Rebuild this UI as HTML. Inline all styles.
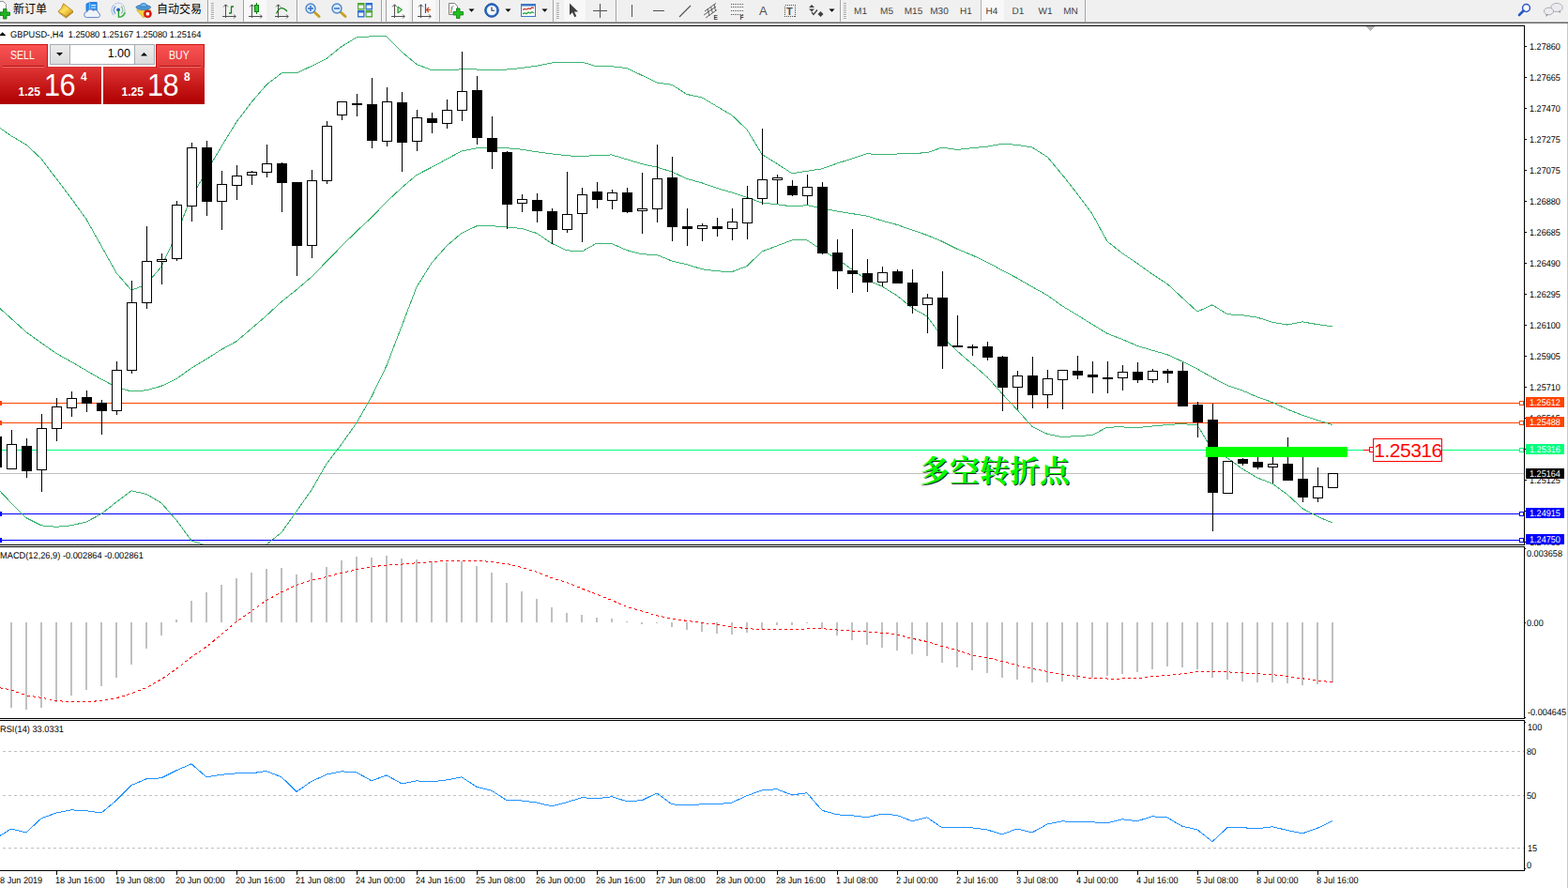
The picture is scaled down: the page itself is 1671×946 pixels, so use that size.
<!DOCTYPE html>
<html><head><meta charset="utf-8"><title>GBPUSD-,H4</title>
<style>
html,body{margin:0;padding:0;background:#fff;}
body{width:1671px;height:946px;position:relative;overflow:hidden;font-family:"Liberation Sans",sans-serif;}
#chart{position:absolute;left:0;top:0;}
.ax{position:absolute;text-rendering:geometricPrecision;font-size:9.8px;line-height:11px;color:#000;white-space:nowrap;transform-origin:0 0;transform:scaleX(0.93);}
.ax.t{transform:scaleX(0.945);}
.lb{position:absolute;left:1626px;width:41px;height:11px;}
.red{position:absolute;left:1464px;top:468px;width:73px;height:24px;line-height:24px;text-align:center;color:#ff0000;font-size:21px;letter-spacing:-0.5px;}
#tb{position:absolute;left:0;top:0;width:1671px;height:22px;background:#f0f0f0;border-bottom:1px solid #f6f6f6;}
#tbl{position:absolute;left:0;top:23px;width:1671px;height:1px;background:#a4a4a4;border-bottom:1px solid #6c6c6c;}

#pn{position:absolute;left:0;top:47px;width:218px;height:64px;color:#fff;}
#pn div{position:absolute;}
#pn .sb{top:0;height:25px;width:51px;background:linear-gradient(#fb5353,#e03a3a);border-top:1px solid #c81414;box-sizing:border-box;}
#pn .sb.l{left:0;border-right:1px solid #c81414;}
#pn .sb.r{left:166px;width:52px;border-left:1px solid #c81414;border-right:1px solid #c81414;}
#pn .bp{top:24px;height:40px;width:108px;background:linear-gradient(#e03636,#c41616 55%,#ae0000);}
#pn .ul{top:23px;height:1px;width:44px;background:#b01010;}
#pn .ul2{top:24px;height:1px;width:44px;background:#f47070;}
#pn .t1{top:5px;font-size:12px;line-height:14px;transform-origin:0 0;transform:scaleX(0.88);}
#pn .sm{font-weight:bold;font-size:12px;line-height:12px;top:45px;}
#pn .bg{font-size:34px;line-height:34px;top:26px;transform-origin:0 0;transform:scaleX(0.9);letter-spacing:-0.5px;}
#pn .sp{font-weight:bold;font-size:12px;line-height:12px;top:29px;}
#pn .spin{left:53px;top:0;width:112px;height:22px;box-sizing:border-box;border:1px solid #a6acb4;background:#fff;}
#pn .spb{top:1px;width:20px;height:20px;background:linear-gradient(#ececec,#dcdcdc);}
#pn .vol{left:76px;top:2px;width:63px;text-align:right;color:#000;font-size:12.5px;line-height:16px;}

</style></head><body>
<svg id="chart" width="1671" height="946" viewBox="0 0 1671 946">
<defs><clipPath id="cm"><rect x="0" y="28" width="1624" height="552"/></clipPath><clipPath id="cmacd"><rect x="0" y="583" width="1624" height="182"/></clipPath><clipPath id="crsi"><rect x="0" y="769" width="1624" height="158"/></clipPath></defs>
<g shape-rendering="crispEdges">
<rect x="0" y="504" width="1624" height="1" fill="#c0c0c0"/>
<rect x="0" y="429" width="1619" height="1" fill="#ff4500"/>
<rect x="0" y="450" width="1619" height="1" fill="#ff4500"/>
<rect x="0" y="479" width="1619" height="1" fill="#00ff7f"/>
<rect x="0" y="547" width="1619" height="1" fill="#0000ff"/>
<rect x="0" y="575" width="1619" height="1" fill="#0000ff"/>
</g>
<polyline points="0,136.4 12,144.8 28,154.3 44,169.1 60,190.3 76,211.4 92,233.6 108,262.1 124,290.7 140,309.3 156,303.0 172,284.0 188,249.9 204,209.3 220,183.3 236,156.0 252,130.0 268,108.8 284,90.3 300,77.9 316,77.9 332,70.4 348,62.5 364,49.5 380,39.8 396,38.8 412,38.8 428,55.2 444,68.5 460,74.7 476,74.8 492,73.8 508,74.0 524,75.0 540,74.0 556,72.5 572,70.2 588,67.0 604,66.0 620,66.0 636,70.8 652,70.8 668,72.6 684,80.2 700,88.0 716,90.3 732,100.5 748,103.8 764,113.4 780,122.8 796,138.0 812,164.5 828,174.3 844,184.8 860,182.3 876,179.8 892,174.1 908,169.0 924,163.7 940,164.9 956,164.0 972,163.3 988,162.8 1004,157.0 1020,159.5 1036,157.7 1052,156.2 1068,153.2 1084,154.4 1100,157.0 1116,167.1 1132,186.1 1148,206.4 1164,228.0 1180,257.2 1196,269.8 1212,280.6 1228,292.1 1244,302.5 1260,317.3 1276,332.0 1292,324.8 1308,334.8 1324,335.7 1340,338.2 1356,343.2 1372,346.1 1388,342.9 1404,345.6 1420,347.8" fill="none" stroke="#3cb371" stroke-width="1" clip-path="url(#cm)" shape-rendering="crispEdges" />
<polyline points="0,328.6 12,339.4 28,353.8 44,365.3 60,376.5 76,385.4 92,394.8 108,404.0 124,412.5 140,417.0 156,415.8 172,411.3 188,403.6 204,392.1 220,382.6 236,372.3 252,363.7 268,350.0 284,336.2 300,321.4 316,308.7 332,295.0 348,278.6 364,262.2 380,246.4 396,231.7 412,214.9 428,200.1 444,186.4 460,178.2 476,169.6 492,160.9 508,157.9 524,157.7 540,157.7 556,159.2 572,161.8 588,163.9 604,165.7 620,166.9 636,165.1 652,165.0 668,169.8 684,174.6 700,178.1 716,183.0 732,190.5 748,194.8 764,200.5 780,205.1 796,210.3 812,216.0 828,217.7 844,219.9 860,218.7 876,221.8 892,225.0 908,227.6 924,230.2 940,235.1 956,239.4 972,245.1 988,250.5 1004,257.2 1020,265.3 1036,271.8 1052,279.3 1068,288.0 1084,296.3 1100,305.6 1116,314.5 1132,326.0 1148,335.6 1164,345.5 1180,355.3 1196,361.5 1212,368.4 1228,373.2 1244,377.8 1260,385.1 1276,393.1 1292,402.2 1308,410.7 1324,416.0 1340,422.9 1356,428.6 1372,436.0 1388,442.4 1404,447.7 1420,452.5" fill="none" stroke="#3cb371" stroke-width="1" clip-path="url(#cm)" shape-rendering="crispEdges" />
<polyline points="0,523.2 12,535.9 28,551.7 44,559.8 60,561.3 76,559.8 92,556.0 108,547.5 124,534.8 140,522.8 156,526.4 172,535.9 188,554.1 204,576.0 220,581.5 236,586.5 252,588.5 268,586.5 284,580.0 300,567.3 316,544.7 332,522.0 348,494.1 364,473.2 380,450.5 396,422.6 412,389.5 428,347.7 444,305.8 460,280.1 476,262.0 492,248.3 508,240.8 524,240.7 540,241.9 556,243.5 572,248.5 588,259.3 604,266.8 620,268.0 636,259.0 652,259.6 668,266.6 684,270.8 700,271.5 716,278.0 732,281.8 748,286.7 764,288.8 780,289.6 796,283.5 812,268.0 828,261.9 844,255.9 860,255.9 876,266.5 892,275.7 908,287.2 924,298.3 940,305.1 956,315.0 972,328.0 988,337.0 1004,358.9 1020,374.0 1036,387.8 1052,401.6 1068,419.5 1084,436.5 1100,454.4 1116,462.3 1132,465.6 1148,464.6 1164,463.5 1180,455.1 1196,454.9 1212,455.7 1228,454.0 1244,452.5 1260,451.5 1276,453.0 1292,479.5 1308,487.8 1324,499.5 1340,509.0 1356,515.3 1372,526.9 1388,541.7 1404,550.2 1420,557.0" fill="none" stroke="#3cb371" stroke-width="1" clip-path="url(#cm)" shape-rendering="crispEdges" />
<g shape-rendering="crispEdges" clip-path="url(#cm)">
<rect x="-4" y="465" width="1" height="33" fill="#000"/>
<rect x="-9" y="465" width="11" height="33" fill="#000"/>
<rect x="12" y="458" width="1" height="42" fill="#000"/>
<rect x="7" y="473" width="11" height="27" fill="#000"/>
<rect x="8" y="474" width="9" height="25" fill="#fff"/>
<rect x="28" y="467" width="1" height="42" fill="#000"/>
<rect x="23" y="475" width="11" height="27" fill="#000"/>
<rect x="44" y="441" width="1" height="83" fill="#000"/>
<rect x="39" y="456" width="11" height="45" fill="#000"/>
<rect x="40" y="457" width="9" height="43" fill="#fff"/>
<rect x="60" y="424" width="1" height="46" fill="#000"/>
<rect x="55" y="433" width="11" height="24" fill="#000"/>
<rect x="56" y="434" width="9" height="22" fill="#fff"/>
<rect x="76" y="417" width="1" height="27" fill="#000"/>
<rect x="71" y="424" width="11" height="11" fill="#000"/>
<rect x="72" y="425" width="9" height="9" fill="#fff"/>
<rect x="92" y="416" width="1" height="23" fill="#000"/>
<rect x="87" y="423" width="11" height="7" fill="#000"/>
<rect x="108" y="426" width="1" height="37" fill="#000"/>
<rect x="103" y="429" width="11" height="9" fill="#000"/>
<rect x="124" y="385" width="1" height="57" fill="#000"/>
<rect x="119" y="394" width="11" height="44" fill="#000"/>
<rect x="120" y="395" width="9" height="42" fill="#fff"/>
<rect x="140" y="299" width="1" height="99" fill="#000"/>
<rect x="135" y="322" width="11" height="73" fill="#000"/>
<rect x="136" y="323" width="9" height="71" fill="#fff"/>
<rect x="156" y="241" width="1" height="88" fill="#000"/>
<rect x="151" y="278" width="11" height="45" fill="#000"/>
<rect x="152" y="279" width="9" height="43" fill="#fff"/>
<rect x="172" y="270" width="1" height="33" fill="#000"/>
<rect x="167" y="276" width="11" height="3" fill="#000"/>
<rect x="168" y="277" width="9" height="1" fill="#fff"/>
<rect x="188" y="214" width="1" height="64" fill="#000"/>
<rect x="183" y="218" width="11" height="58" fill="#000"/>
<rect x="184" y="219" width="9" height="56" fill="#fff"/>
<rect x="204" y="152" width="1" height="84" fill="#000"/>
<rect x="199" y="157" width="11" height="63" fill="#000"/>
<rect x="200" y="158" width="9" height="61" fill="#fff"/>
<rect x="220" y="150" width="1" height="80" fill="#000"/>
<rect x="215" y="157" width="11" height="58" fill="#000"/>
<rect x="236" y="182" width="1" height="63" fill="#000"/>
<rect x="231" y="196" width="11" height="19" fill="#000"/>
<rect x="232" y="197" width="9" height="17" fill="#fff"/>
<rect x="252" y="176" width="1" height="37" fill="#000"/>
<rect x="247" y="187" width="11" height="11" fill="#000"/>
<rect x="248" y="188" width="9" height="9" fill="#fff"/>
<rect x="268" y="182" width="1" height="15" fill="#000"/>
<rect x="263" y="183" width="11" height="4" fill="#000"/>
<rect x="264" y="184" width="9" height="2" fill="#fff"/>
<rect x="284" y="154" width="1" height="35" fill="#000"/>
<rect x="279" y="174" width="11" height="10" fill="#000"/>
<rect x="280" y="175" width="9" height="8" fill="#fff"/>
<rect x="300" y="173" width="1" height="53" fill="#000"/>
<rect x="295" y="174" width="11" height="21" fill="#000"/>
<rect x="316" y="194" width="1" height="100" fill="#000"/>
<rect x="311" y="194" width="11" height="68" fill="#000"/>
<rect x="332" y="181" width="1" height="94" fill="#000"/>
<rect x="327" y="192" width="11" height="70" fill="#000"/>
<rect x="328" y="193" width="9" height="68" fill="#fff"/>
<rect x="348" y="129" width="1" height="67" fill="#000"/>
<rect x="343" y="134" width="11" height="59" fill="#000"/>
<rect x="344" y="135" width="9" height="57" fill="#fff"/>
<rect x="364" y="108" width="1" height="20" fill="#000"/>
<rect x="359" y="108" width="11" height="15" fill="#000"/>
<rect x="360" y="109" width="9" height="13" fill="#fff"/>
<rect x="380" y="100" width="1" height="24" fill="#000"/>
<rect x="375" y="110" width="11" height="2" fill="#000"/>
<rect x="396" y="83" width="1" height="75" fill="#000"/>
<rect x="391" y="111" width="11" height="39" fill="#000"/>
<rect x="412" y="93" width="1" height="63" fill="#000"/>
<rect x="407" y="108" width="11" height="43" fill="#000"/>
<rect x="408" y="109" width="9" height="41" fill="#fff"/>
<rect x="428" y="98" width="1" height="85" fill="#000"/>
<rect x="423" y="109" width="11" height="43" fill="#000"/>
<rect x="444" y="117" width="1" height="44" fill="#000"/>
<rect x="439" y="125" width="11" height="26" fill="#000"/>
<rect x="440" y="126" width="9" height="24" fill="#fff"/>
<rect x="460" y="120" width="1" height="22" fill="#000"/>
<rect x="455" y="126" width="11" height="5" fill="#000"/>
<rect x="476" y="106" width="1" height="31" fill="#000"/>
<rect x="471" y="117" width="11" height="15" fill="#000"/>
<rect x="472" y="118" width="9" height="13" fill="#fff"/>
<rect x="492" y="55" width="1" height="74" fill="#000"/>
<rect x="487" y="97" width="11" height="21" fill="#000"/>
<rect x="488" y="98" width="9" height="19" fill="#fff"/>
<rect x="508" y="81" width="1" height="73" fill="#000"/>
<rect x="503" y="96" width="11" height="51" fill="#000"/>
<rect x="524" y="124" width="1" height="56" fill="#000"/>
<rect x="519" y="147" width="11" height="15" fill="#000"/>
<rect x="540" y="161" width="1" height="83" fill="#000"/>
<rect x="535" y="162" width="11" height="56" fill="#000"/>
<rect x="556" y="207" width="1" height="19" fill="#000"/>
<rect x="551" y="212" width="11" height="5" fill="#000"/>
<rect x="552" y="213" width="9" height="3" fill="#fff"/>
<rect x="572" y="206" width="1" height="31" fill="#000"/>
<rect x="567" y="213" width="11" height="12" fill="#000"/>
<rect x="588" y="222" width="1" height="38" fill="#000"/>
<rect x="583" y="225" width="11" height="20" fill="#000"/>
<rect x="604" y="183" width="1" height="65" fill="#000"/>
<rect x="599" y="228" width="11" height="17" fill="#000"/>
<rect x="600" y="229" width="9" height="15" fill="#fff"/>
<rect x="620" y="200" width="1" height="58" fill="#000"/>
<rect x="615" y="207" width="11" height="21" fill="#000"/>
<rect x="616" y="208" width="9" height="19" fill="#fff"/>
<rect x="636" y="194" width="1" height="28" fill="#000"/>
<rect x="631" y="204" width="11" height="9" fill="#000"/>
<rect x="652" y="202" width="1" height="21" fill="#000"/>
<rect x="647" y="205" width="11" height="9" fill="#000"/>
<rect x="648" y="206" width="9" height="7" fill="#fff"/>
<rect x="668" y="200" width="1" height="27" fill="#000"/>
<rect x="663" y="205" width="11" height="21" fill="#000"/>
<rect x="684" y="184" width="1" height="65" fill="#000"/>
<rect x="679" y="222" width="11" height="3" fill="#000"/>
<rect x="680" y="223" width="9" height="1" fill="#fff"/>
<rect x="700" y="154" width="1" height="83" fill="#000"/>
<rect x="695" y="190" width="11" height="33" fill="#000"/>
<rect x="696" y="191" width="9" height="31" fill="#fff"/>
<rect x="716" y="167" width="1" height="90" fill="#000"/>
<rect x="711" y="189" width="11" height="53" fill="#000"/>
<rect x="732" y="222" width="1" height="40" fill="#000"/>
<rect x="727" y="241" width="11" height="3" fill="#000"/>
<rect x="748" y="238" width="1" height="19" fill="#000"/>
<rect x="743" y="240" width="11" height="4" fill="#000"/>
<rect x="744" y="241" width="9" height="2" fill="#fff"/>
<rect x="764" y="232" width="1" height="20" fill="#000"/>
<rect x="759" y="241" width="11" height="3" fill="#000"/>
<rect x="780" y="222" width="1" height="34" fill="#000"/>
<rect x="775" y="236" width="11" height="8" fill="#000"/>
<rect x="776" y="237" width="9" height="6" fill="#fff"/>
<rect x="796" y="198" width="1" height="57" fill="#000"/>
<rect x="791" y="211" width="11" height="27" fill="#000"/>
<rect x="792" y="212" width="9" height="25" fill="#fff"/>
<rect x="812" y="137" width="1" height="81" fill="#000"/>
<rect x="807" y="191" width="11" height="21" fill="#000"/>
<rect x="808" y="192" width="9" height="19" fill="#fff"/>
<rect x="828" y="186" width="1" height="31" fill="#000"/>
<rect x="823" y="189" width="11" height="3" fill="#000"/>
<rect x="824" y="190" width="9" height="1" fill="#fff"/>
<rect x="844" y="192" width="1" height="17" fill="#000"/>
<rect x="839" y="198" width="11" height="10" fill="#000"/>
<rect x="860" y="186" width="1" height="32" fill="#000"/>
<rect x="855" y="199" width="11" height="10" fill="#000"/>
<rect x="856" y="200" width="9" height="8" fill="#fff"/>
<rect x="876" y="194" width="1" height="77" fill="#000"/>
<rect x="871" y="199" width="11" height="71" fill="#000"/>
<rect x="892" y="255" width="1" height="53" fill="#000"/>
<rect x="887" y="269" width="11" height="20" fill="#000"/>
<rect x="908" y="244" width="1" height="68" fill="#000"/>
<rect x="903" y="288" width="11" height="4" fill="#000"/>
<rect x="924" y="276" width="1" height="35" fill="#000"/>
<rect x="919" y="291" width="11" height="10" fill="#000"/>
<rect x="940" y="284" width="1" height="21" fill="#000"/>
<rect x="935" y="290" width="11" height="11" fill="#000"/>
<rect x="936" y="291" width="9" height="9" fill="#fff"/>
<rect x="956" y="287" width="1" height="15" fill="#000"/>
<rect x="951" y="289" width="11" height="13" fill="#000"/>
<rect x="972" y="287" width="1" height="47" fill="#000"/>
<rect x="967" y="301" width="11" height="25" fill="#000"/>
<rect x="988" y="313" width="1" height="42" fill="#000"/>
<rect x="983" y="317" width="11" height="8" fill="#000"/>
<rect x="984" y="318" width="9" height="6" fill="#fff"/>
<rect x="1004" y="289" width="1" height="104" fill="#000"/>
<rect x="999" y="317" width="11" height="52" fill="#000"/>
<rect x="1020" y="336" width="1" height="34" fill="#000"/>
<rect x="1015" y="368" width="11" height="2" fill="#000"/>
<rect x="1036" y="367" width="1" height="12" fill="#000"/>
<rect x="1031" y="369" width="11" height="2" fill="#000"/>
<rect x="1052" y="364" width="1" height="20" fill="#000"/>
<rect x="1047" y="369" width="11" height="12" fill="#000"/>
<rect x="1068" y="379" width="1" height="59" fill="#000"/>
<rect x="1063" y="380" width="11" height="33" fill="#000"/>
<rect x="1084" y="395" width="1" height="41" fill="#000"/>
<rect x="1079" y="400" width="11" height="13" fill="#000"/>
<rect x="1080" y="401" width="9" height="11" fill="#fff"/>
<rect x="1100" y="380" width="1" height="55" fill="#000"/>
<rect x="1095" y="400" width="11" height="21" fill="#000"/>
<rect x="1116" y="394" width="1" height="41" fill="#000"/>
<rect x="1111" y="403" width="11" height="18" fill="#000"/>
<rect x="1112" y="404" width="9" height="16" fill="#fff"/>
<rect x="1132" y="394" width="1" height="42" fill="#000"/>
<rect x="1127" y="394" width="11" height="11" fill="#000"/>
<rect x="1128" y="395" width="9" height="9" fill="#fff"/>
<rect x="1148" y="379" width="1" height="25" fill="#000"/>
<rect x="1143" y="395" width="11" height="5" fill="#000"/>
<rect x="1164" y="385" width="1" height="34" fill="#000"/>
<rect x="1159" y="399" width="11" height="3" fill="#000"/>
<rect x="1180" y="385" width="1" height="34" fill="#000"/>
<rect x="1175" y="402" width="11" height="2" fill="#000"/>
<rect x="1196" y="389" width="1" height="27" fill="#000"/>
<rect x="1191" y="396" width="11" height="7" fill="#000"/>
<rect x="1192" y="397" width="9" height="5" fill="#fff"/>
<rect x="1212" y="386" width="1" height="22" fill="#000"/>
<rect x="1207" y="396" width="11" height="9" fill="#000"/>
<rect x="1228" y="393" width="1" height="15" fill="#000"/>
<rect x="1223" y="395" width="11" height="10" fill="#000"/>
<rect x="1224" y="396" width="9" height="8" fill="#fff"/>
<rect x="1244" y="393" width="1" height="15" fill="#000"/>
<rect x="1239" y="395" width="11" height="3" fill="#000"/>
<rect x="1260" y="386" width="1" height="47" fill="#000"/>
<rect x="1255" y="395" width="11" height="38" fill="#000"/>
<rect x="1276" y="428" width="1" height="38" fill="#000"/>
<rect x="1271" y="431" width="11" height="19" fill="#000"/>
<rect x="1292" y="430" width="1" height="136" fill="#000"/>
<rect x="1287" y="447" width="11" height="78" fill="#000"/>
<rect x="1308" y="491" width="1" height="35" fill="#000"/>
<rect x="1303" y="491" width="11" height="35" fill="#000"/>
<rect x="1304" y="492" width="9" height="33" fill="#fff"/>
<rect x="1324" y="488" width="1" height="8" fill="#000"/>
<rect x="1319" y="489" width="11" height="5" fill="#000"/>
<rect x="1340" y="484" width="1" height="16" fill="#000"/>
<rect x="1335" y="492" width="11" height="6" fill="#000"/>
<rect x="1356" y="485" width="1" height="30" fill="#000"/>
<rect x="1351" y="494" width="11" height="4" fill="#000"/>
<rect x="1352" y="495" width="9" height="2" fill="#fff"/>
<rect x="1372" y="466" width="1" height="46" fill="#000"/>
<rect x="1367" y="494" width="11" height="18" fill="#000"/>
<rect x="1388" y="484" width="1" height="51" fill="#000"/>
<rect x="1383" y="510" width="11" height="20" fill="#000"/>
<rect x="1404" y="498" width="1" height="37" fill="#000"/>
<rect x="1399" y="518" width="11" height="13" fill="#000"/>
<rect x="1400" y="519" width="9" height="11" fill="#fff"/>
<rect x="1420" y="504" width="1" height="16" fill="#000"/>
<rect x="1415" y="504" width="11" height="16" fill="#000"/>
<rect x="1416" y="505" width="9" height="14" fill="#fff"/>
</g>
<g shape-rendering="crispEdges">
<rect x="1285" y="476" width="151" height="11" fill="#00ff00"/>
<rect x="1453" y="479" width="10" height="1" fill="#ff0000"/>
<rect x="1459.5" y="476.5" width="4" height="5" fill="#fff" stroke="#ff0000" stroke-width="1"/>
<rect x="1463.5" y="467.5" width="73" height="24" fill="#fff" stroke="#ff0000" stroke-width="1"/>
<rect x="1619.5" y="427.5" width="4" height="4" fill="#fff" stroke="#ff4500" stroke-width="1"/>
<rect x="1619.5" y="448.5" width="4" height="4" fill="#fff" stroke="#ff4500" stroke-width="1"/>
<rect x="1619.5" y="477.5" width="4" height="4" fill="#fff" stroke="#00ff7f" stroke-width="1"/>
<rect x="1619.5" y="545.5" width="4" height="4" fill="#fff" stroke="#0000ff" stroke-width="1"/>
<rect x="1619.5" y="573.5" width="4" height="4" fill="#fff" stroke="#0000ff" stroke-width="1"/>
<rect x="0" y="427" width="2" height="5" fill="#ff4500"/>
<rect x="0" y="448" width="2" height="5" fill="#ff4500"/>
<rect x="0" y="545" width="2" height="5" fill="#0000ff"/>
<rect x="0" y="573" width="2" height="5" fill="#0000ff"/>
<rect x="0" y="27" width="1625" height="1" fill="#000"/>
<rect x="1624" y="27" width="1" height="554" fill="#000"/>
<rect x="0" y="580" width="1625" height="1" fill="#000"/>
<rect x="0" y="582" width="1625" height="1" fill="#000"/>
<rect x="1624" y="582" width="1" height="184" fill="#000"/>
<rect x="0" y="765" width="1625" height="1" fill="#000"/>
<rect x="0" y="767" width="1625" height="1" fill="#000"/>
<rect x="1624" y="767" width="1" height="161" fill="#000"/>
<rect x="0" y="927" width="1625" height="1" fill="#000"/>
<rect x="1670" y="24" width="1" height="922" fill="#c8c8d0"/>
<rect x="1625" y="49" width="2" height="1" fill="#000"/>
<rect x="1625" y="82" width="2" height="1" fill="#000"/>
<rect x="1625" y="115" width="2" height="1" fill="#000"/>
<rect x="1625" y="148" width="2" height="1" fill="#000"/>
<rect x="1625" y="181" width="2" height="1" fill="#000"/>
<rect x="1625" y="214" width="2" height="1" fill="#000"/>
<rect x="1625" y="247" width="2" height="1" fill="#000"/>
<rect x="1625" y="280" width="2" height="1" fill="#000"/>
<rect x="1625" y="313" width="2" height="1" fill="#000"/>
<rect x="1625" y="346" width="2" height="1" fill="#000"/>
<rect x="1625" y="379" width="2" height="1" fill="#000"/>
<rect x="1625" y="412" width="2" height="1" fill="#000"/>
<rect x="1625" y="445" width="2" height="1" fill="#000"/>
<rect x="1625" y="478" width="2" height="1" fill="#000"/>
<rect x="1625" y="511" width="2" height="1" fill="#000"/>
<rect x="1625" y="544" width="2" height="1" fill="#000"/>
<rect x="1625" y="577" width="2" height="1" fill="#000"/>
<rect x="1625" y="584" width="1" height="1" fill="#000"/>
<rect x="1625" y="663" width="1" height="1" fill="#000"/>
<rect x="1625" y="764" width="1" height="1" fill="#000"/>
<rect x="1625" y="769" width="1" height="1" fill="#000"/>
<rect x="1625" y="925" width="1" height="1" fill="#000"/>
<rect x="60" y="928" width="1" height="4" fill="#000"/>
<rect x="124" y="928" width="1" height="4" fill="#000"/>
<rect x="188" y="928" width="1" height="4" fill="#000"/>
<rect x="252" y="928" width="1" height="4" fill="#000"/>
<rect x="316" y="928" width="1" height="4" fill="#000"/>
<rect x="380" y="928" width="1" height="4" fill="#000"/>
<rect x="444" y="928" width="1" height="4" fill="#000"/>
<rect x="508" y="928" width="1" height="4" fill="#000"/>
<rect x="572" y="928" width="1" height="4" fill="#000"/>
<rect x="636" y="928" width="1" height="4" fill="#000"/>
<rect x="700" y="928" width="1" height="4" fill="#000"/>
<rect x="764" y="928" width="1" height="4" fill="#000"/>
<rect x="828" y="928" width="1" height="4" fill="#000"/>
<rect x="892" y="928" width="1" height="4" fill="#000"/>
<rect x="956" y="928" width="1" height="4" fill="#000"/>
<rect x="1020" y="928" width="1" height="4" fill="#000"/>
<rect x="1084" y="928" width="1" height="4" fill="#000"/>
<rect x="1148" y="928" width="1" height="4" fill="#000"/>
<rect x="1212" y="928" width="1" height="4" fill="#000"/>
<rect x="1276" y="928" width="1" height="4" fill="#000"/>
<rect x="1340" y="928" width="1" height="4" fill="#000"/>
<rect x="1404" y="928" width="1" height="4" fill="#000"/>
<polygon points="1455,28 1465,28 1460,33" fill="#b4b4b4"/>
</g><polygon points="-1,38 2.7,34.2 6.4,38" fill="#000"/><g shape-rendering="crispEdges">
</g>
<g shape-rendering="crispEdges" clip-path="url(#cmacd)">
<rect x="11" y="663" width="2" height="91" fill="#c0c0c0"/>
<rect x="27" y="663" width="2" height="93" fill="#c0c0c0"/>
<rect x="43" y="663" width="2" height="91" fill="#c0c0c0"/>
<rect x="59" y="663" width="2" height="85" fill="#c0c0c0"/>
<rect x="75" y="663" width="2" height="78" fill="#c0c0c0"/>
<rect x="91" y="663" width="2" height="72" fill="#c0c0c0"/>
<rect x="107" y="663" width="2" height="68" fill="#c0c0c0"/>
<rect x="123" y="663" width="2" height="59" fill="#c0c0c0"/>
<rect x="139" y="663" width="2" height="45" fill="#c0c0c0"/>
<rect x="155" y="663" width="2" height="28" fill="#c0c0c0"/>
<rect x="171" y="663" width="2" height="14" fill="#c0c0c0"/>
<rect x="187" y="660" width="2" height="3" fill="#c0c0c0"/>
<rect x="203" y="640" width="2" height="23" fill="#c0c0c0"/>
<rect x="219" y="631" width="2" height="32" fill="#c0c0c0"/>
<rect x="235" y="623" width="2" height="40" fill="#c0c0c0"/>
<rect x="251" y="616" width="2" height="47" fill="#c0c0c0"/>
<rect x="267" y="610" width="2" height="53" fill="#c0c0c0"/>
<rect x="283" y="606" width="2" height="57" fill="#c0c0c0"/>
<rect x="299" y="605" width="2" height="58" fill="#c0c0c0"/>
<rect x="315" y="612" width="2" height="51" fill="#c0c0c0"/>
<rect x="331" y="610" width="2" height="53" fill="#c0c0c0"/>
<rect x="347" y="604" width="2" height="59" fill="#c0c0c0"/>
<rect x="363" y="597" width="2" height="66" fill="#c0c0c0"/>
<rect x="379" y="593" width="2" height="70" fill="#c0c0c0"/>
<rect x="395" y="594" width="2" height="69" fill="#c0c0c0"/>
<rect x="411" y="592" width="2" height="71" fill="#c0c0c0"/>
<rect x="427" y="595" width="2" height="68" fill="#c0c0c0"/>
<rect x="443" y="596" width="2" height="67" fill="#c0c0c0"/>
<rect x="459" y="598" width="2" height="65" fill="#c0c0c0"/>
<rect x="475" y="599" width="2" height="64" fill="#c0c0c0"/>
<rect x="491" y="598" width="2" height="65" fill="#c0c0c0"/>
<rect x="507" y="603" width="2" height="60" fill="#c0c0c0"/>
<rect x="523" y="610" width="2" height="53" fill="#c0c0c0"/>
<rect x="539" y="621" width="2" height="42" fill="#c0c0c0"/>
<rect x="555" y="630" width="2" height="33" fill="#c0c0c0"/>
<rect x="571" y="638" width="2" height="25" fill="#c0c0c0"/>
<rect x="587" y="647" width="2" height="16" fill="#c0c0c0"/>
<rect x="603" y="653" width="2" height="10" fill="#c0c0c0"/>
<rect x="619" y="655" width="2" height="8" fill="#c0c0c0"/>
<rect x="635" y="658" width="2" height="5" fill="#c0c0c0"/>
<rect x="651" y="659" width="2" height="4" fill="#c0c0c0"/>
<rect x="667" y="662" width="2" height="1" fill="#c0c0c0"/>
<rect x="683" y="663" width="2" height="2" fill="#c0c0c0"/>
<rect x="699" y="663" width="2" height="1" fill="#c0c0c0"/>
<rect x="715" y="663" width="2" height="5" fill="#c0c0c0"/>
<rect x="731" y="663" width="2" height="8" fill="#c0c0c0"/>
<rect x="747" y="663" width="2" height="10" fill="#c0c0c0"/>
<rect x="763" y="663" width="2" height="12" fill="#c0c0c0"/>
<rect x="779" y="663" width="2" height="13" fill="#c0c0c0"/>
<rect x="795" y="663" width="2" height="11" fill="#c0c0c0"/>
<rect x="811" y="663" width="2" height="7" fill="#c0c0c0"/>
<rect x="827" y="663" width="2" height="3" fill="#c0c0c0"/>
<rect x="843" y="663" width="2" height="3" fill="#c0c0c0"/>
<rect x="859" y="663" width="2" height="1" fill="#c0c0c0"/>
<rect x="875" y="663" width="2" height="7" fill="#c0c0c0"/>
<rect x="891" y="663" width="2" height="14" fill="#c0c0c0"/>
<rect x="907" y="663" width="2" height="19" fill="#c0c0c0"/>
<rect x="923" y="663" width="2" height="24" fill="#c0c0c0"/>
<rect x="939" y="663" width="2" height="27" fill="#c0c0c0"/>
<rect x="955" y="663" width="2" height="30" fill="#c0c0c0"/>
<rect x="971" y="663" width="2" height="34" fill="#c0c0c0"/>
<rect x="987" y="663" width="2" height="36" fill="#c0c0c0"/>
<rect x="1003" y="663" width="2" height="43" fill="#c0c0c0"/>
<rect x="1019" y="663" width="2" height="48" fill="#c0c0c0"/>
<rect x="1035" y="663" width="2" height="51" fill="#c0c0c0"/>
<rect x="1051" y="663" width="2" height="54" fill="#c0c0c0"/>
<rect x="1067" y="663" width="2" height="59" fill="#c0c0c0"/>
<rect x="1083" y="663" width="2" height="61" fill="#c0c0c0"/>
<rect x="1099" y="663" width="2" height="64" fill="#c0c0c0"/>
<rect x="1115" y="663" width="2" height="64" fill="#c0c0c0"/>
<rect x="1131" y="663" width="2" height="63" fill="#c0c0c0"/>
<rect x="1147" y="663" width="2" height="61" fill="#c0c0c0"/>
<rect x="1163" y="663" width="2" height="59" fill="#c0c0c0"/>
<rect x="1179" y="663" width="2" height="57" fill="#c0c0c0"/>
<rect x="1195" y="663" width="2" height="55" fill="#c0c0c0"/>
<rect x="1211" y="663" width="2" height="53" fill="#c0c0c0"/>
<rect x="1227" y="663" width="2" height="50" fill="#c0c0c0"/>
<rect x="1243" y="663" width="2" height="47" fill="#c0c0c0"/>
<rect x="1259" y="663" width="2" height="48" fill="#c0c0c0"/>
<rect x="1275" y="663" width="2" height="50" fill="#c0c0c0"/>
<rect x="1291" y="663" width="2" height="59" fill="#c0c0c0"/>
<rect x="1307" y="663" width="2" height="61" fill="#c0c0c0"/>
<rect x="1323" y="663" width="2" height="63" fill="#c0c0c0"/>
<rect x="1339" y="663" width="2" height="64" fill="#c0c0c0"/>
<rect x="1355" y="663" width="2" height="64" fill="#c0c0c0"/>
<rect x="1371" y="663" width="2" height="65" fill="#c0c0c0"/>
<rect x="1387" y="663" width="2" height="67" fill="#c0c0c0"/>
<rect x="1403" y="663" width="2" height="66" fill="#c0c0c0"/>
<rect x="1419" y="663" width="2" height="64" fill="#c0c0c0"/>
</g>
<polyline points="0,732.8 12,735.0 28,740.8 44,743.3 60,746.4 76,747.9 92,747.9 108,746.4 124,743.8 140,738.8 156,732.5 172,723.7 188,712.5 204,699.9 220,689.1 236,676.0 252,662.2 268,650.9 284,639.6 300,630.8 316,623.2 332,618.2 348,614.5 364,610.2 380,606.9 396,603.9 412,602.0 428,601.1 444,599.8 460,598.8 476,597.1 492,597.1 508,597.1 524,598.6 540,600.6 556,604.4 572,609.4 588,615.7 604,620.7 620,627.0 636,633.3 652,639.5 668,646.3 684,650.9 700,655.9 716,658.9 732,661.4 748,663.4 764,665.2 780,667.7 796,669.7 812,670.5 828,670.5 844,670.5 860,670.0 876,669.7 892,671.0 908,672.0 924,673.0 940,674.2 956,676.0 972,680.3 988,683.5 1004,688.5 1020,692.8 1036,697.9 1052,700.6 1068,704.4 1084,708.7 1100,712.4 1116,715.4 1132,718.7 1148,720.5 1164,722.5 1180,723.0 1196,723.0 1212,722.8 1228,720.5 1244,719.5 1260,717.8 1276,715.8 1292,715.8 1308,715.8 1324,716.9 1340,717.8 1356,718.6 1372,720.5 1388,722.8 1404,725.1 1420,726.8" fill="none" stroke="#ff0000" stroke-width="1" clip-path="url(#cmacd)" shape-rendering="crispEdges" stroke-dasharray="3 3"/>
<g shape-rendering="crispEdges">
<line x1="3" y1="800.5" x2="1624" y2="800.5" stroke="#c0c0c0" stroke-width="1" stroke-dasharray="3 3"/>
<line x1="3" y1="847.5" x2="1624" y2="847.5" stroke="#c0c0c0" stroke-width="1" stroke-dasharray="3 3"/>
<line x1="3" y1="903.5" x2="1624" y2="903.5" stroke="#c0c0c0" stroke-width="1" stroke-dasharray="3 3"/>
</g>
<polyline points="0,890.4 12,882.9 28,886.9 44,871.8 60,866.0 76,862.8 92,863.8 108,866.0 124,852.7 140,836.6 156,829.8 172,828.8 188,820.8 204,813.8 220,827.8 236,825.3 252,823.8 268,823.8 284,821.5 300,827.8 316,843.4 332,832.4 348,825.1 364,821.8 380,822.8 396,831.9 412,825.8 428,834.9 444,831.9 460,832.9 476,830.9 492,827.8 508,838.4 524,842.2 540,852.7 556,853.0 572,855.0 588,858.8 604,854.7 620,849.7 636,850.7 652,848.7 668,853.7 684,852.7 700,844.9 716,856.8 732,858.0 748,856.8 764,856.8 780,855.0 796,847.7 812,841.9 828,840.7 844,846.9 860,844.7 876,863.3 892,867.8 908,868.8 924,870.8 940,867.0 956,868.5 972,874.8 988,870.8 1004,881.9 1020,881.9 1036,881.9 1052,883.9 1068,888.9 1084,882.9 1100,886.9 1116,878.1 1132,874.8 1148,875.8 1164,875.8 1180,876.8 1196,872.8 1212,874.7 1228,869.8 1244,871.0 1260,880.3 1276,883.9 1292,896.6 1308,881.7 1324,881.7 1340,882.8 1356,880.8 1372,884.5 1388,887.9 1404,882.3 1420,874.6" fill="none" stroke="#1e90ff" stroke-width="1" clip-path="url(#crsi)" shape-rendering="crispEdges" />
<text x="980" y="513" font-size="32" font-weight="bold" font-family="&quot;Liberation Serif&quot;, &quot;Noto Serif CJK SC&quot;, serif" fill="#203020" transform="translate(1,1)">多空转折点</text>
<text x="980" y="513" font-size="32" font-weight="bold" font-family="&quot;Liberation Serif&quot;, &quot;Noto Serif CJK SC&quot;, serif" fill="#00ff00">多空转折点</text>
</svg>
<div class="ax" style="left:1629.6px;top:45px;">1.27860</div>
<div class="ax" style="left:1629.6px;top:78px;">1.27665</div>
<div class="ax" style="left:1629.6px;top:111px;">1.27470</div>
<div class="ax" style="left:1629.6px;top:144px;">1.27275</div>
<div class="ax" style="left:1629.6px;top:177px;">1.27075</div>
<div class="ax" style="left:1629.6px;top:210px;">1.26880</div>
<div class="ax" style="left:1629.6px;top:243px;">1.26685</div>
<div class="ax" style="left:1629.6px;top:276px;">1.26490</div>
<div class="ax" style="left:1629.6px;top:309px;">1.26295</div>
<div class="ax" style="left:1629.6px;top:342px;">1.26100</div>
<div class="ax" style="left:1629.6px;top:375px;">1.25905</div>
<div class="ax" style="left:1629.6px;top:408px;">1.25710</div>
<div class="ax" style="left:1629.6px;top:441px;">1.25515</div>
<div class="ax" style="left:1629.6px;top:474px;">1.25320</div>
<div class="ax" style="left:1629.6px;top:507px;">1.25125</div>
<div class="ax" style="left:1629.6px;top:540px;">1.24930</div>
<div class="ax" style="left:1629.6px;top:573px;">1.24735</div>
<div class="lb" style="top:423px;background:#ff4500"></div>
<div class="ax" style="left:1629.8px;top:424px;color:#fff">1.25612</div>
<div class="lb" style="top:444px;background:#ff4500"></div>
<div class="ax" style="left:1629.8px;top:445px;color:#fff">1.25488</div>
<div class="lb" style="top:473px;background:#00ff7f"></div>
<div class="ax" style="left:1629.8px;top:474px;color:#fff">1.25316</div>
<div class="lb" style="top:499px;background:#000"></div>
<div class="ax" style="left:1629.8px;top:500px;color:#fff">1.25164</div>
<div class="lb" style="top:541px;background:#0000ff"></div>
<div class="ax" style="left:1629.8px;top:542px;color:#fff">1.24915</div>
<div class="lb" style="top:569px;background:#0000ff"></div>
<div class="ax" style="left:1629.8px;top:570px;color:#fff">1.24750</div>
<div class="ax" style="left:1627.4px;top:585px;">0.003658</div>
<div class="ax" style="left:1627.4px;top:659px;">0.00</div>
<div class="ax" style="left:1627.6px;top:754px;">-0.004645</div>
<div class="ax" style="left:1627.8px;top:770px;">100</div>
<div class="ax" style="left:1627px;top:796px;">80</div>
<div class="ax" style="left:1627px;top:843px;">50</div>
<div class="ax" style="left:1627.8px;top:899px;">15</div>
<div class="ax" style="left:1627px;top:917px;">0</div>
<div class="ax" style="left:-5px;top:933px;">18 Jun 2019</div>
<div class="ax" style="left:59px;top:933px;">18 Jun 16:00</div>
<div class="ax" style="left:123px;top:933px;">19 Jun 08:00</div>
<div class="ax" style="left:187px;top:933px;">20 Jun 00:00</div>
<div class="ax" style="left:251px;top:933px;">20 Jun 16:00</div>
<div class="ax" style="left:315px;top:933px;">21 Jun 08:00</div>
<div class="ax" style="left:379px;top:933px;">24 Jun 00:00</div>
<div class="ax" style="left:443px;top:933px;">24 Jun 16:00</div>
<div class="ax" style="left:507px;top:933px;">25 Jun 08:00</div>
<div class="ax" style="left:571px;top:933px;">26 Jun 00:00</div>
<div class="ax" style="left:635px;top:933px;">26 Jun 16:00</div>
<div class="ax" style="left:699px;top:933px;">27 Jun 08:00</div>
<div class="ax" style="left:763px;top:933px;">28 Jun 00:00</div>
<div class="ax" style="left:827px;top:933px;">28 Jun 16:00</div>
<div class="ax" style="left:891px;top:933px;">1 Jul 08:00</div>
<div class="ax" style="left:955px;top:933px;">2 Jul 00:00</div>
<div class="ax" style="left:1019px;top:933px;">2 Jul 16:00</div>
<div class="ax" style="left:1083px;top:933px;">3 Jul 08:00</div>
<div class="ax" style="left:1147px;top:933px;">4 Jul 00:00</div>
<div class="ax" style="left:1211px;top:933px;">4 Jul 16:00</div>
<div class="ax" style="left:1275px;top:933px;">5 Jul 08:00</div>
<div class="ax" style="left:1339px;top:933px;">8 Jul 00:00</div>
<div class="ax" style="left:1403px;top:933px;">8 Jul 16:00</div>
<div class="ax t" style="left:11px;top:32px;">GBPUSD-,H4&nbsp; 1.25080 1.25167 1.25080 1.25164</div>
<div class="ax t" style="left:0px;top:587px;">MACD(12,26,9) -0.002864 -0.002861</div>
<div class="ax t" style="left:0px;top:772px;">RSI(14) 33.0331</div>
<div class="red">1.25316</div>
<div id="tb"></div><div id="tbl"></div>
<svg id="tbs" style="position:absolute;left:0;top:0" width="1671" height="24" viewBox="0 0 1671 24">
<rect x="260" y="0" width="24" height="22" fill="#f8f8f8"/>
<rect x="412" y="0" width="24" height="22" fill="#f8f8f8"/>
<rect x="440" y="0" width="24" height="22" fill="#f8f8f8"/>
<rect x="601" y="0" width="23" height="22" fill="#f8f8f8"/>
<rect x="1046" y="0" width="24" height="22" fill="#f8f8f8"/>
<rect x="1045" y="0" width="1" height="22" fill="#b0b0b0" shape-rendering="crispEdges"/>
<rect x="221" y="0" width="1" height="23" fill="#a0a0a0" shape-rendering="crispEdges"/><rect x="222" y="0" width="1" height="23" fill="#fcfcfc" shape-rendering="crispEdges"/>
<rect x="259" y="0" width="1" height="23" fill="#a0a0a0" shape-rendering="crispEdges"/><rect x="260" y="0" width="1" height="23" fill="#fcfcfc" shape-rendering="crispEdges"/>
<rect x="316" y="0" width="1" height="23" fill="#a0a0a0" shape-rendering="crispEdges"/><rect x="317" y="0" width="1" height="23" fill="#fcfcfc" shape-rendering="crispEdges"/>
<rect x="406" y="0" width="1" height="23" fill="#a0a0a0" shape-rendering="crispEdges"/><rect x="407" y="0" width="1" height="23" fill="#fcfcfc" shape-rendering="crispEdges"/>
<rect x="411" y="0" width="1" height="23" fill="#a0a0a0" shape-rendering="crispEdges"/><rect x="412" y="0" width="1" height="23" fill="#fcfcfc" shape-rendering="crispEdges"/>
<rect x="439" y="0" width="1" height="23" fill="#a0a0a0" shape-rendering="crispEdges"/><rect x="440" y="0" width="1" height="23" fill="#fcfcfc" shape-rendering="crispEdges"/>
<rect x="468" y="0" width="1" height="23" fill="#a0a0a0" shape-rendering="crispEdges"/><rect x="469" y="0" width="1" height="23" fill="#fcfcfc" shape-rendering="crispEdges"/>
<rect x="589" y="0" width="1" height="23" fill="#a0a0a0" shape-rendering="crispEdges"/><rect x="590" y="0" width="1" height="23" fill="#fcfcfc" shape-rendering="crispEdges"/>
<rect x="656" y="0" width="1" height="23" fill="#a0a0a0" shape-rendering="crispEdges"/><rect x="657" y="0" width="1" height="23" fill="#fcfcfc" shape-rendering="crispEdges"/>
<rect x="895" y="0" width="1" height="23" fill="#a0a0a0" shape-rendering="crispEdges"/><rect x="896" y="0" width="1" height="23" fill="#fcfcfc" shape-rendering="crispEdges"/>
<rect x="1156" y="0" width="1" height="23" fill="#a0a0a0" shape-rendering="crispEdges"/><rect x="1157" y="0" width="1" height="23" fill="#fcfcfc" shape-rendering="crispEdges"/>
<rect x="225" y="3" width="3" height="1" fill="#a8a8a8" shape-rendering="crispEdges"/><rect x="226" y="4" width="3" height="1" fill="#fafafa" shape-rendering="crispEdges"/>
<rect x="225" y="5" width="3" height="1" fill="#a8a8a8" shape-rendering="crispEdges"/><rect x="226" y="6" width="3" height="1" fill="#fafafa" shape-rendering="crispEdges"/>
<rect x="225" y="7" width="3" height="1" fill="#a8a8a8" shape-rendering="crispEdges"/><rect x="226" y="8" width="3" height="1" fill="#fafafa" shape-rendering="crispEdges"/>
<rect x="225" y="9" width="3" height="1" fill="#a8a8a8" shape-rendering="crispEdges"/><rect x="226" y="10" width="3" height="1" fill="#fafafa" shape-rendering="crispEdges"/>
<rect x="225" y="11" width="3" height="1" fill="#a8a8a8" shape-rendering="crispEdges"/><rect x="226" y="12" width="3" height="1" fill="#fafafa" shape-rendering="crispEdges"/>
<rect x="225" y="13" width="3" height="1" fill="#a8a8a8" shape-rendering="crispEdges"/><rect x="226" y="14" width="3" height="1" fill="#fafafa" shape-rendering="crispEdges"/>
<rect x="225" y="15" width="3" height="1" fill="#a8a8a8" shape-rendering="crispEdges"/><rect x="226" y="16" width="3" height="1" fill="#fafafa" shape-rendering="crispEdges"/>
<rect x="225" y="17" width="3" height="1" fill="#a8a8a8" shape-rendering="crispEdges"/><rect x="226" y="18" width="3" height="1" fill="#fafafa" shape-rendering="crispEdges"/>
<rect x="225" y="19" width="3" height="1" fill="#a8a8a8" shape-rendering="crispEdges"/><rect x="226" y="20" width="3" height="1" fill="#fafafa" shape-rendering="crispEdges"/>
<rect x="593" y="3" width="3" height="1" fill="#a8a8a8" shape-rendering="crispEdges"/><rect x="594" y="4" width="3" height="1" fill="#fafafa" shape-rendering="crispEdges"/>
<rect x="593" y="5" width="3" height="1" fill="#a8a8a8" shape-rendering="crispEdges"/><rect x="594" y="6" width="3" height="1" fill="#fafafa" shape-rendering="crispEdges"/>
<rect x="593" y="7" width="3" height="1" fill="#a8a8a8" shape-rendering="crispEdges"/><rect x="594" y="8" width="3" height="1" fill="#fafafa" shape-rendering="crispEdges"/>
<rect x="593" y="9" width="3" height="1" fill="#a8a8a8" shape-rendering="crispEdges"/><rect x="594" y="10" width="3" height="1" fill="#fafafa" shape-rendering="crispEdges"/>
<rect x="593" y="11" width="3" height="1" fill="#a8a8a8" shape-rendering="crispEdges"/><rect x="594" y="12" width="3" height="1" fill="#fafafa" shape-rendering="crispEdges"/>
<rect x="593" y="13" width="3" height="1" fill="#a8a8a8" shape-rendering="crispEdges"/><rect x="594" y="14" width="3" height="1" fill="#fafafa" shape-rendering="crispEdges"/>
<rect x="593" y="15" width="3" height="1" fill="#a8a8a8" shape-rendering="crispEdges"/><rect x="594" y="16" width="3" height="1" fill="#fafafa" shape-rendering="crispEdges"/>
<rect x="593" y="17" width="3" height="1" fill="#a8a8a8" shape-rendering="crispEdges"/><rect x="594" y="18" width="3" height="1" fill="#fafafa" shape-rendering="crispEdges"/>
<rect x="593" y="19" width="3" height="1" fill="#a8a8a8" shape-rendering="crispEdges"/><rect x="594" y="20" width="3" height="1" fill="#fafafa" shape-rendering="crispEdges"/>
<rect x="899" y="3" width="3" height="1" fill="#a8a8a8" shape-rendering="crispEdges"/><rect x="900" y="4" width="3" height="1" fill="#fafafa" shape-rendering="crispEdges"/>
<rect x="899" y="5" width="3" height="1" fill="#a8a8a8" shape-rendering="crispEdges"/><rect x="900" y="6" width="3" height="1" fill="#fafafa" shape-rendering="crispEdges"/>
<rect x="899" y="7" width="3" height="1" fill="#a8a8a8" shape-rendering="crispEdges"/><rect x="900" y="8" width="3" height="1" fill="#fafafa" shape-rendering="crispEdges"/>
<rect x="899" y="9" width="3" height="1" fill="#a8a8a8" shape-rendering="crispEdges"/><rect x="900" y="10" width="3" height="1" fill="#fafafa" shape-rendering="crispEdges"/>
<rect x="899" y="11" width="3" height="1" fill="#a8a8a8" shape-rendering="crispEdges"/><rect x="900" y="12" width="3" height="1" fill="#fafafa" shape-rendering="crispEdges"/>
<rect x="899" y="13" width="3" height="1" fill="#a8a8a8" shape-rendering="crispEdges"/><rect x="900" y="14" width="3" height="1" fill="#fafafa" shape-rendering="crispEdges"/>
<rect x="899" y="15" width="3" height="1" fill="#a8a8a8" shape-rendering="crispEdges"/><rect x="900" y="16" width="3" height="1" fill="#fafafa" shape-rendering="crispEdges"/>
<rect x="899" y="17" width="3" height="1" fill="#a8a8a8" shape-rendering="crispEdges"/><rect x="900" y="18" width="3" height="1" fill="#fafafa" shape-rendering="crispEdges"/>
<rect x="899" y="19" width="3" height="1" fill="#a8a8a8" shape-rendering="crispEdges"/><rect x="900" y="20" width="3" height="1" fill="#fafafa" shape-rendering="crispEdges"/>
<path d="M-3 1.5H3.5L6.5 4.5V13H-3Z" fill="#fff" stroke="#909090" stroke-width="1"/>
<path d="M0 13h3.5v-3.5h3.5v3.5h3.5v3.5h-3.5v3.5h-3.5v-3.5h-3.5z" fill="#22b422" stroke="#0a7a0a" stroke-width="0.8"/>
<text x="14" y="14" font-size="12" font-family="&quot;Liberation Sans&quot;, &quot;Noto Sans CJK SC&quot;, sans-serif" fill="#000">新订单</text>
<defs><linearGradient id="gb" x1="0" y1="0" x2="1" y2="1"><stop offset="0" stop-color="#d49a10"/><stop offset="0.45" stop-color="#ffe060"/><stop offset="1" stop-color="#c88a08"/></linearGradient></defs>
<path d="M62.3 13.6L70.4 19.6L78 13.2L77.6 12Z" fill="#8a5a08"/>
<path d="M62.8 13L70.4 18.6L77.4 12.6" fill="none" stroke="#f4e0a0" stroke-width="0.8"/>
<path d="M67.6 3.8L77.8 11.8L70.4 17.8L62 12.2Q66 9.5 67.6 3.8Z" fill="url(#gb)" stroke="#b07808" stroke-width="0.8"/>
<path d="M92 4.2l3.6-1.6h7.6v9h-11.2z" fill="#2a90f0" stroke="#1468c8" stroke-width="0.8"/>
<path d="M95.6 2.6v9" stroke="#9cd0ff" stroke-width="0.8"/><rect x="97.2" y="5" width="5" height="1.2" fill="#e0f0ff"/><rect x="97.2" y="7.6" width="5" height="1.2" fill="#bcdcff"/>
<path d="M92.5 18.6a3 3 0 0 1 0.3-6a3.8 3.8 0 0 1 6.6-1.2a3.2 3.2 0 0 1 5.3 2.3a2.5 2.5 0 0 1-0.3 4.9z" fill="#eef2fa" stroke="#5c84c4" stroke-width="1"/>
<path d="M121.3 5.2a7.6 7.6 0 0 0 0 11" fill="none" stroke="#9cb8e8" stroke-width="1.1"/><path d="M123.2 6.8a5 5 0 0 0 0 7.8" fill="none" stroke="#5c8cd8" stroke-width="1.2"/>
<path d="M130.8 5.2a7.6 7.6 0 0 1 0 11" fill="none" stroke="#a8d0b0" stroke-width="1.1"/><path d="M129 6.8a5 5 0 0 1 0 7.8" fill="none" stroke="#88b8a0" stroke-width="1.2"/>
<path d="M122 4.4a7.8 7.8 0 0 1 8.4 0" fill="none" stroke="#b4c8e8" stroke-width="1"/>
<circle cx="126.1" cy="10.4" r="1.9" fill="#2058c8"/>
<path d="M126.4 11v7.6" stroke="#20a030" stroke-width="1.4"/><path d="M126.3 18.3A7.8 7.8 0 0 0 133.4 13.2" fill="none" stroke="#40b050" stroke-width="1.6"/>
<path d="M145.6 10.8h15l-7.6 8.2z" fill="#f4d040" stroke="#c8a018" stroke-width="0.7"/>
<ellipse cx="152.8" cy="7.8" rx="7.9" ry="2.6" fill="#4c98d8" stroke="#2c70b0" stroke-width="0.7"/>
<path d="M149.3 7.2a3.7 3.9 0 0 1 7.4 0z" fill="#6cb4ec" stroke="#2c70b0" stroke-width="0.7"/>
<circle cx="157.4" cy="14.8" r="4" fill="#e41c14" stroke="#a80800" stroke-width="0.6"/><rect x="155.800" y="13.200" width="3.200" height="3.200" fill="#fff"/>
<text x="167" y="14" font-size="12" font-family="&quot;Liberation Sans&quot;, &quot;Noto Sans CJK SC&quot;, sans-serif" fill="#000">自动交易</text>
<path d="M240.5 5v14M237 17.5h14" stroke="#505050" stroke-width="1" fill="none" shape-rendering="crispEdges"/>
<path d="M238.2 7.3l2.3-2.5l2.3 2.5M249.2 15.5l2 2l-2 2" stroke="#505050" stroke-width="1" fill="none"/>
<path d="M246.5 6.5v8M246.5 7h2.5M244 14h2.5" stroke="#108010" stroke-width="1.3" fill="none"/>
<path d="M268.5 5v14M265 17.5h14" stroke="#505050" stroke-width="1" fill="none" shape-rendering="crispEdges"/>
<path d="M266.2 7.3l2.3-2.5l2.3 2.5M277.2 15.5l2 2l-2 2" stroke="#505050" stroke-width="1" fill="none"/>
<path d="M273.5 3v12" stroke="#108010" stroke-width="1"/><rect x="271.5" y="5.5" width="4" height="7" fill="#30d040" stroke="#108010" stroke-width="1"/>
<path d="M296.5 5v14M293 17.5h14" stroke="#505050" stroke-width="1" fill="none" shape-rendering="crispEdges"/>
<path d="M294.2 7.3l2.3-2.5l2.3 2.5M305.2 15.5l2 2l-2 2" stroke="#505050" stroke-width="1" fill="none"/>
<path d="M294.5 14.5c2.5-6 6-8.5 11.5-2.5" stroke="#108010" stroke-width="1.2" fill="none"/>
<path d="M334 12l6 5.5" stroke="#c8a020" stroke-width="3" stroke-linecap="round"/>
<circle cx="331" cy="9" r="5" fill="#d8ecfc" stroke="#4c84c8" stroke-width="1.4"/>
<path d="M328 9h6" stroke="#3c78c8" stroke-width="1.6"/>
<path d="M331 6v6" stroke="#3c78c8" stroke-width="1.6"/>
<path d="M362 12l6 5.5" stroke="#c8a020" stroke-width="3" stroke-linecap="round"/>
<circle cx="359" cy="9" r="5" fill="#d8ecfc" stroke="#4c84c8" stroke-width="1.4"/>
<path d="M356 9h6" stroke="#3c78c8" stroke-width="1.6"/>
<rect x="381" y="3" width="7.5" height="7.5" fill="#50a830"/><rect x="382.2" y="5.5" width="5" height="3.6" fill="#eef4ff"/>
<rect x="389.5" y="3" width="7.5" height="7.5" fill="#2c6cd0"/><rect x="390.7" y="5.5" width="5" height="3.6" fill="#eef4ff"/>
<rect x="381" y="11" width="7.5" height="7.5" fill="#2c6cd0"/><rect x="382.2" y="13.5" width="5" height="3.6" fill="#eef4ff"/>
<rect x="389.5" y="11" width="7.5" height="7.5" fill="#50a830"/><rect x="390.7" y="13.5" width="5" height="3.6" fill="#eef4ff"/>
<path d="M420.5 5v14M417 17.5h14" stroke="#505050" stroke-width="1" fill="none" shape-rendering="crispEdges"/>
<path d="M418.2 7.3l2.3-2.5l2.3 2.5M429.2 15.5l2 2l-2 2" stroke="#505050" stroke-width="1" fill="none"/>
<path d="M424 7l4.5 3.5l-4.5 3.500z" fill="#b0e8b0" stroke="#108010" stroke-width="1"/>
<path d="M448.5 5v14M445 17.5h14" stroke="#505050" stroke-width="1" fill="none" shape-rendering="crispEdges"/>
<path d="M446.2 7.3l2.3-2.5l2.3 2.5M457.2 15.5l2 2l-2 2" stroke="#505050" stroke-width="1" fill="none"/>
<path d="M453.5 4v10" stroke="#1c5cb0" stroke-width="1.2"/><path d="M459 10.5h-4M457 8l-2.5 2.5l2.5 2.5" stroke="#d04010" stroke-width="1.2" fill="none"/>
<path d="M478.5 3.5h6l3 3v9h-9z" fill="#fff" stroke="#808080" stroke-width="1"/><text x="480" y="12" font-family="Liberation Serif" font-style="italic" font-size="9" fill="#404040">f</text>
<path d="M483 12.5h3.5v-3.5h3.5v3.5h3.5v3.5h-3.5v3.5h-3.5v-3.5h-3.5z" fill="#22c022" stroke="#0a7a0a" stroke-width="0.8"/>
<polygon points="499.5,9.5 505.5,9.5 502.5,12.8" fill="#000"/>
<circle cx="524" cy="11" r="7.3" fill="#2c6cc8" stroke="#1c4c98" stroke-width="1"/><circle cx="524" cy="11" r="5.2" fill="#f4f8ff"/><path d="M524 7.5v3.8h3" stroke="#303030" stroke-width="1.1" fill="none"/>
<polygon points="538.5,9.5 544.5,9.5 541.5,12.8" fill="#000"/>
<rect x="555.5" y="4.5" width="15" height="13" fill="#f8fbff" stroke="#3c78c8" stroke-width="1"/><rect x="555" y="4" width="16" height="2.5" fill="#3c78c8"/>
<path d="M557 10.5l2-1l2 .7l2-1.2l2 .5l2-1.5l2 .5" stroke="#c03020" stroke-width="1.2" fill="none"/><path d="M557 15l2-1.2l2 1l2-1.8l2 1l2-1.2l2 1" stroke="#20a030" stroke-width="1.2" fill="none"/>
<polygon points="577.5,9.5 583.5,9.5 580.5,12.8" fill="#000"/>
<path d="M607 3.5v12.5l3-2.8l2.3 5l2-.9l-2.3-4.9h4.2z" fill="#404040"/>
<path d="M639.5 4v15M632 11.5h15" stroke="#505050" stroke-width="1" shape-rendering="crispEdges"/>
<path d="M673.5 5v13" stroke="#505050" stroke-width="1" shape-rendering="crispEdges"/><path d="M696 11.5h12" stroke="#505050" stroke-width="1" shape-rendering="crispEdges"/><path d="M724 18l12-12" stroke="#505050" stroke-width="1.1"/>
<path d="M750 16l13-9M751 12l12-8.5M752 19l12-8.5M754 9.5l2 7M757.5 7l2 7M761 4.5l1.5 7" stroke="#505050" stroke-width="0.9" fill="none"/><text x="760.5" y="20.5" font-size="6.5" font-weight="bold" font-family="Liberation Sans" fill="#404040">E</text>
<path d="M779 4.5h13" stroke="#505050" stroke-width="1" stroke-dasharray="1 1" shape-rendering="crispEdges"/>
<path d="M779 7.5h13" stroke="#505050" stroke-width="1" stroke-dasharray="1 1" shape-rendering="crispEdges"/>
<path d="M779 11.5h13" stroke="#505050" stroke-width="1" stroke-dasharray="1 1" shape-rendering="crispEdges"/>
<path d="M779 15.5h13" stroke="#505050" stroke-width="1" stroke-dasharray="1 1" shape-rendering="crispEdges"/>
<text x="788.5" y="20.5" font-size="6.5" font-weight="bold" font-family="Liberation Sans" fill="#404040">F</text>
<text x="809" y="16" font-size="13" font-family="Liberation Sans" fill="#505050">A</text>
<rect x="836.5" y="5.5" width="11" height="12" fill="none" stroke="#505050" stroke-width="1" stroke-dasharray="1 1" shape-rendering="crispEdges"/><text x="838" y="16" font-size="11" font-weight="bold" font-family="Liberation Sans" fill="#505050">T</text>
<path d="M865 5l3 3h-6zM862 9.5h6l-3 3zM874.5 12l3 3l-3 3l-3-3z" fill="#404040"/><path d="M865 13l2 2.5l4-5" stroke="#404040" stroke-width="1.3" fill="none"/>
<polygon points="883.5,9.5 889.5,9.5 886.5,12.8" fill="#000"/>
<text x="917" y="15" text-anchor="middle" font-size="10" font-family="Liberation Sans" fill="#404040" style="text-rendering:geometricPrecision">M1</text>
<text x="945" y="15" text-anchor="middle" font-size="10" font-family="Liberation Sans" fill="#404040" style="text-rendering:geometricPrecision">M5</text>
<text x="973.5" y="15" text-anchor="middle" font-size="10" font-family="Liberation Sans" fill="#404040" style="text-rendering:geometricPrecision">M15</text>
<text x="1001" y="15" text-anchor="middle" font-size="10" font-family="Liberation Sans" fill="#404040" style="text-rendering:geometricPrecision">M30</text>
<text x="1029.5" y="15" text-anchor="middle" font-size="10" font-family="Liberation Sans" fill="#404040" style="text-rendering:geometricPrecision">H1</text>
<text x="1057" y="15" text-anchor="middle" font-size="10" font-family="Liberation Sans" fill="#404040" style="text-rendering:geometricPrecision">H4</text>
<text x="1085" y="15" text-anchor="middle" font-size="10" font-family="Liberation Sans" fill="#404040" style="text-rendering:geometricPrecision">D1</text>
<text x="1114" y="15" text-anchor="middle" font-size="10" font-family="Liberation Sans" fill="#404040" style="text-rendering:geometricPrecision">W1</text>
<text x="1141" y="15" text-anchor="middle" font-size="10" font-family="Liberation Sans" fill="#404040" style="text-rendering:geometricPrecision">MN</text>
<circle cx="1626.5" cy="8.5" r="3.9" fill="#fff" stroke="#2858c8" stroke-width="1.5"/><path d="M1623.5 11.5l-4.5 4.5" stroke="#2858c8" stroke-width="2.6" stroke-linecap="round"/>
<ellipse cx="1659" cy="8" rx="6.2" ry="4.6" fill="#ececf0" stroke="#b0b0b8" stroke-width="1"/><path d="M1661 12l1.5 2.5l.5-3z" fill="#909098"/>
<ellipse cx="1650.5" cy="12" rx="5" ry="3.8" fill="#ececf0" stroke="#a8a8b0" stroke-width="1"/><path d="M1647.5 15l0 3l2.5-2.5z" fill="#909098"/>
</svg>
<div id="pn">
<div class="spin"></div>
<div class="spb" style="left:54px;border-right:1px solid #a6acb4"></div>
<div class="spb" style="left:143px;border-left:1px solid #a6acb4"></div>
<svg style="position:absolute;left:0;top:0" width="218" height="24"><polygon points="60,9 67,9 63.5,12.5" fill="#000"/><polygon points="150,12.5 157,12.5 153.5,9" fill="#000"/></svg>
<div class="vol">1.00</div>
<div class="bp" style="left:0"></div><div class="bp" style="left:110px"></div>
<div class="sb l"></div><div class="sb r"></div>
<div class="ul" style="left:3px"></div><div class="ul2" style="left:3px"></div>
<div class="ul" style="left:170px"></div><div class="ul2" style="left:170px"></div>
<div class="t1" style="left:11px">SELL</div><div class="t1" style="left:179.5px">BUY</div>
<div class="sm" style="left:19.5px">1.25</div><div class="bg" style="left:46.5px">16</div><div class="sp" style="left:86px">4</div>
<div class="sm" style="left:129.5px">1.25</div><div class="bg" style="left:156.5px">18</div><div class="sp" style="left:196px">8</div>
</div>

</body></html>
